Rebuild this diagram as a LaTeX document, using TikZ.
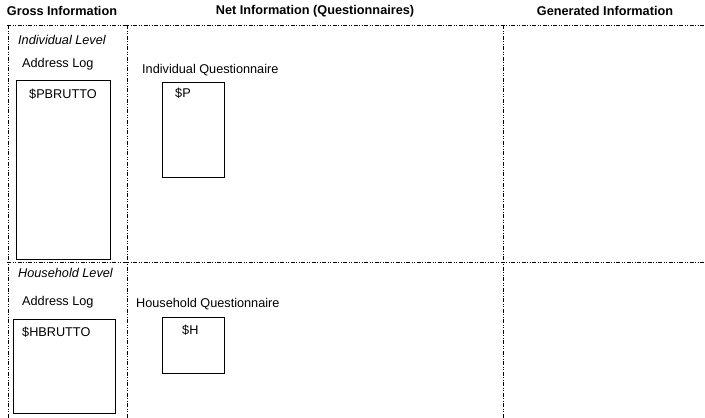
\documentclass[tikz,border=0pt]{standalone}
\usepackage{fontspec}
\setmainfont{Liberation Sans}
\usetikzlibrary{positioning}

\begin{document}
\begin{tikzpicture}[x=1pt, y=-1pt, font=\fontsize{12.7}{14}\selectfont,
		sep/.style={line width=0.6pt, dash pattern=on 4pt off 1.5pt on 1pt off 1.5pt on 1pt off 1.5pt},
		head/.style={font=\fontsize{12.7}{14}\selectfont\bfseries},
		lbl/.style={anchor=west, inner sep=0pt},
		tbox/.style={draw, line width=0.6pt}]
	
	\useasboundingbox (0,0) rectangle (705,418);
	
	% ---------------------------------------------------------
	% Column headers
	% ---------------------------------------------------------
	\node[head] (gross_head) at (62,11) {Gross Information};
	\node[head] (net_head) at (315,11) {Net Information (Questionnaires)};
	\node[head] (gen_head) at (605,11) {Generated Information};
	
	% Grid (dash dot dot lines)
	\draw[sep] (7,25) -- (705,25);
	\draw[sep] (7,262) -- (705,262);
	\draw[sep] (8,25) -- (8,418);
	\draw[sep] (127,25) -- (127,418);
	\draw[sep] (503,25) -- (503,418);
	
	% ---------------------------------------------------------
	% Individual level
	% ---------------------------------------------------------
	\node[lbl, font=\fontsize{12.7}{14}\selectfont\itshape] (ind_level) at (18,40) {Individual Level};
	\node[lbl] (ind_log) at (22,64) {Address Log};
	\draw[tbox] (16,80) rectangle (110,259);
	\node[lbl] (pbrutto) at (29,94) {\$PBRUTTO};
	
	\node[lbl] (ind_quest) at (142,70) {Individual Questionnaire};
	\draw[tbox] (162,82) rectangle (224,177);
	\node[lbl] (p_text) at (175,93) {\$P};
	
	% ---------------------------------------------------------
	% Household level
	% ---------------------------------------------------------
	\node[lbl, font=\fontsize{12.7}{14}\selectfont\itshape] (hh_level) at (18,273) {Household Level};
	\node[lbl] (hh_log) at (22,302) {Address Log};
	\draw[tbox] (13,319) rectangle (115,413);
	\node[lbl] (hbrutto) at (22,332) {\$HBRUTTO};
	
	\node[lbl] (hh_quest) at (136,304) {Household Questionnaire};
	\draw[tbox] (162,317) rectangle (224,373);
	\node[lbl] (h_text) at (182,330) {\$H};
	
\end{tikzpicture}
\end{document}
